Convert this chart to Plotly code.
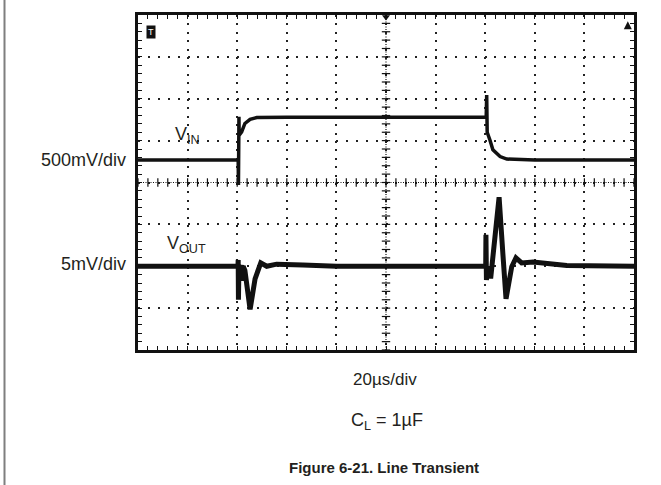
import numpy as np
import plotly.graph_objects as go

# ---- data (time in microseconds, amplitude in screen divisions) ----
vin_time_us = [0, 40.4, 40.5, 40.7, 40.8, 41.8, 43.1, 45.2, 47.9, 60, 100, 140.4,
               140.6, 140.8, 141.9, 143.1, 146.0, 148.7, 160, 200]
vin_div = [0.54, 0.54, -0.06, 1.57, 1.13, 1.21, 1.41, 1.51, 1.55, 1.56, 1.56, 1.56,
           2.09, 1.20, 1.015, 0.78, 0.62, 0.56, 0.54, 0.54]

vout_time_us = [0, 20, 40.3, 40.4, 40.5, 40.7, 41.5, 41.8, 42.0, 42.4, 43.1, 45.2, 47.2,
                49.5, 51.9, 55.9, 66.5, 80, 100, 120, 140.2, 140.3, 140.5, 140.8, 141.3,
                141.7, 142.2, 143.3, 145.6, 147.1, 148.4, 150.7, 152.4, 154.7, 159.3,
                172.9, 200]
vout_div = [-2.0, -2.0, -2.0, -1.85, -2.8, -2.0, -2.05, -1.97, -2.35, -2.0, -2.1, -3.03,
            -2.3, -1.92, -2.0, -1.95, -1.97, -2.0, -2.0, -2.0, -2.0, -1.25, -2.33, -2.0,
            -2.29, -2.0, -2.29, -1.68, -0.35, -1.68, -2.78, -2.01, -1.8, -1.92, -1.9,
            -1.98, -2.0]

x_div_us = 20     # 20 us/div, 10 divisions
y_divs = 4        # +-4 divisions

TXT = "#231f20"
FONT = "Liberation Sans, Arial, sans-serif"

fig = go.Figure()

# graticule centre cross ticks
cx = np.arange(0, 10 * x_div_us + 0.001, x_div_us / 5)
cy = np.arange(-y_divs, y_divs + 0.001, 0.2)
fig.add_trace(go.Scatter(x=cx, y=[0] * len(cx), mode="markers", hoverinfo="skip",
                         marker=dict(symbol="line-ns", size=6, line=dict(width=1.2, color="#111")),
                         showlegend=False))
fig.add_trace(go.Scatter(x=[100] * len(cy), y=cy, mode="markers", hoverinfo="skip",
                         marker=dict(symbol="line-ew", size=6, line=dict(width=1.2, color="#111")),
                         showlegend=False))

fig.add_trace(go.Scatter(x=vin_time_us, y=vin_div, mode="lines",
                         line=dict(color="#111", width=3.5), showlegend=False, name="VIN"))
fig.add_trace(go.Scatter(x=vout_time_us, y=vout_div, mode="lines",
                         line=dict(color="#111", width=5), showlegend=False, name="VOUT"))

# trigger markers
fig.add_trace(go.Scatter(x=[100], y=[3.95], mode="markers", cliponaxis=False, hoverinfo="skip",
                         marker=dict(symbol="triangle-down", size=7, color="#111"), showlegend=False))
fig.add_trace(go.Scatter(x=[197.5], y=[3.85], mode="markers", cliponaxis=False, hoverinfo="skip",
                         marker=dict(symbol="arrow-up", size=8, color="#111"), showlegend=False))

fig.update_xaxes(range=[0, 10 * x_div_us], dtick=x_div_us, showticklabels=False,
                 showgrid=True, gridcolor="#222", gridwidth=1.6, griddash="2px,6.4px",
                 ticks="inside", ticklen=4, tickcolor="#111", tickwidth=1.2,
                 minor=dict(dtick=x_div_us / 5, ticks="inside", ticklen=4, tickcolor="#111",
                            tickwidth=1.2, showgrid=False),
                 showline=True, linecolor="#111", linewidth=2.5, mirror="allticks",
                 zeroline=False, fixedrange=True)
fig.update_yaxes(range=[-y_divs, y_divs], dtick=1, showticklabels=False,
                 showgrid=True, gridcolor="#222", gridwidth=1.6, griddash="2px,7.9px",
                 ticks="inside", ticklen=4, tickcolor="#111", tickwidth=1.2,
                 minor=dict(dtick=0.2, ticks="inside", ticklen=4, tickcolor="#111",
                            tickwidth=1.2, showgrid=False),
                 showline=True, linecolor="#111", linewidth=2.5, mirror="allticks",
                 zeroline=False, fixedrange=True)

PW, PH = 496.0, 335.0
def px_x(px):
    return (px - 138) / PW
def px_y(py):
    return (350 - py) / PH

shapes = [
    dict(type="line", xref="x", yref="y", x0=0, x1=200, y0=0, y1=0,
         line=dict(color="#111", width=1.2, dash="1px,1.5px")),
    dict(type="line", xref="x", yref="y", x0=100, x1=100, y0=-4, y1=4,
         line=dict(color="#111", width=1.2, dash="1px,1.5px")),
    dict(type="line", xref="paper", yref="paper", x0=px_x(4.5), x1=px_x(4.5),
         y0=px_y(485), y1=px_y(0),
         line=dict(color="#7f7f7f", width=2)),
]

annotations = [
    dict(text="T", xref="paper", yref="paper", x=px_x(146), y=px_y(25), showarrow=False,
         font=dict(family=FONT, size=9, color="white"), bgcolor="#111", borderpad=1),
    dict(text="500mV/div", xref="paper", yref="y", x=px_x(128), y=0.54, xanchor="right",
         yanchor="middle", showarrow=False, font=dict(family=FONT, size=18, color=TXT)),
    dict(text="5mV/div", xref="paper", yref="y", x=px_x(128), y=-1.95, xanchor="right",
         yanchor="middle", showarrow=False, font=dict(family=FONT, size=18, color=TXT)),
    dict(text="V<sub>IN</sub>", xref="x", yref="y", x=14.2, y=1.13, xanchor="left",
         yanchor="middle", showarrow=False, font=dict(family=FONT, size=18, color=TXT)),
    dict(text="V<sub>OUT</sub>", xref="x", yref="y", x=11.0, y=-1.47, xanchor="left",
         yanchor="middle", showarrow=False, font=dict(family=FONT, size=18, color=TXT)),
    dict(text="20\u00b5s/div", xref="paper", yref="paper", x=px_x(385), y=px_y(379),
         xanchor="center", yanchor="middle", showarrow=False,
         font=dict(family=FONT, size=17, color=TXT)),
    dict(text="C<sub>L</sub> = 1\u00b5F", xref="paper", yref="paper", x=px_x(387), y=px_y(421),
         xanchor="center", yanchor="middle", showarrow=False,
         font=dict(family=FONT, size=18, color=TXT)),
    dict(text="<b>Figure 6-21. Line Transient</b>", xref="paper", yref="paper", x=px_x(384),
         y=px_y(467), xanchor="center", yanchor="middle", showarrow=False,
         font=dict(family=FONT, size=15, color=TXT)),
]

fig.update_layout(width=661, height=485, margin=dict(l=138, r=27, t=15, b=135),
                  paper_bgcolor="white", plot_bgcolor="white",
                  shapes=shapes, annotations=annotations, showlegend=False)

fig.write_html("out.html", config={"displayModeBar": False},
               post_script="document.body.style.margin='0';"
                           "document.documentElement.style.overflow='hidden';")
